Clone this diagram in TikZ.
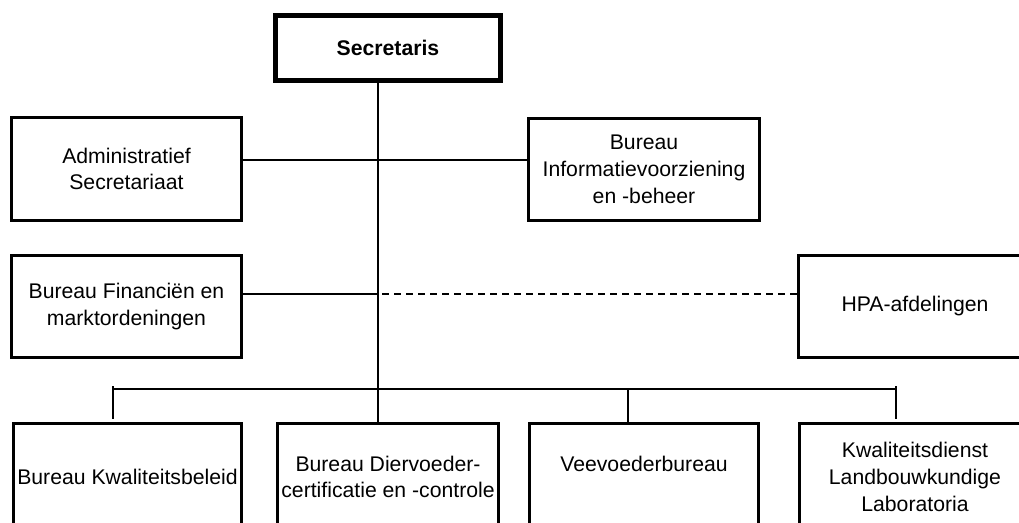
\documentclass[tikz,border=0pt]{standalone}
\usepackage{fontspec}
\setmainfont{Liberation Sans}
\begin{document}
\begin{tikzpicture}[x=1pt,y=-1pt,
  box/.style={draw=black,line width=3pt,rectangle,inner sep=0pt,outer sep=0pt,
    align=center,font=\fontsize{21.2}{26.8}\selectfont,text=black},
  conn/.style={draw=black,line width=2pt},
  dconn/.style={draw=black,line width=2pt,dash pattern=on 7pt off 5pt}]
\useasboundingbox (0,0) rectangle (1019,522);
\clip (0,0) rectangle (1019,522);
\fill[white] (0,0) rectangle (1019,522);
% boxes
\node[box,line width=5pt,minimum width=225pt,minimum height=65pt,
  font=\fontsize{21.2}{26.8}\selectfont\bfseries] (sec) at (388,48) {Secretaris};
\node[box,minimum width=230pt,minimum height=103pt] (adm) at (126.5,169) {Administratief\\Secretariaat};
\node[box,minimum width=231pt,minimum height=102pt] (info) at (644,169.5) {Bureau\\Informatievoorziening\\en -beheer};
\node[box,minimum width=230pt,minimum height=102pt] (fin) at (126.5,306.5) {Bureau Financiën en\\marktordeningen};
\node[box,minimum width=233pt,minimum height=102pt] (hpa) at (915,306.5) {HPA-afdelingen};
\node[box,minimum width=228pt,minimum height=107pt] (b1) at (127.5,477) {Bureau Kwaliteitsbeleid};
\node[box,minimum width=221pt,minimum height=107pt] (b2) at (388,477) {Bureau Diervoeder-\\certificatie en -controle};
\node[box,minimum width=229pt,minimum height=107pt] (b3) at (644,477) {Veevoederbureau\\~};
\node[box,minimum width=231pt,minimum height=107pt] (b4) at (915,477) {Kwaliteitsdienst\\Landbouwkundige\\Laboratoria};
% connector coordinates
\coordinate (spine) at (378,83);
\coordinate (jadm) at (378,160);
\coordinate (jfin) at (378,294);
\coordinate (bl) at (113,389);
\coordinate (br) at (896,389);
\coordinate (bm) at (628,389);
\coordinate (tl) at (113,386);
\coordinate (tr) at (896,386);
% connectors
\draw[conn] (spine) -- (b2.north -| spine);
\draw[conn] (adm.east |- jadm) -- (info.west |- jadm);
\draw[conn] (fin.east |- jfin) -- (jfin);
\draw[dconn] ([xshift=4pt]jfin) -- (hpa.west |- jfin);
\draw[conn] (bl) -- (br);
\draw[conn] (tl) -- ([yshift=5pt]b1.north -| tl);
\draw[conn] (tr) -- ([yshift=5pt]b4.north -| tr);
\draw[conn] (bm) -- (b3.north -| bm);
\end{tikzpicture}
\end{document}
